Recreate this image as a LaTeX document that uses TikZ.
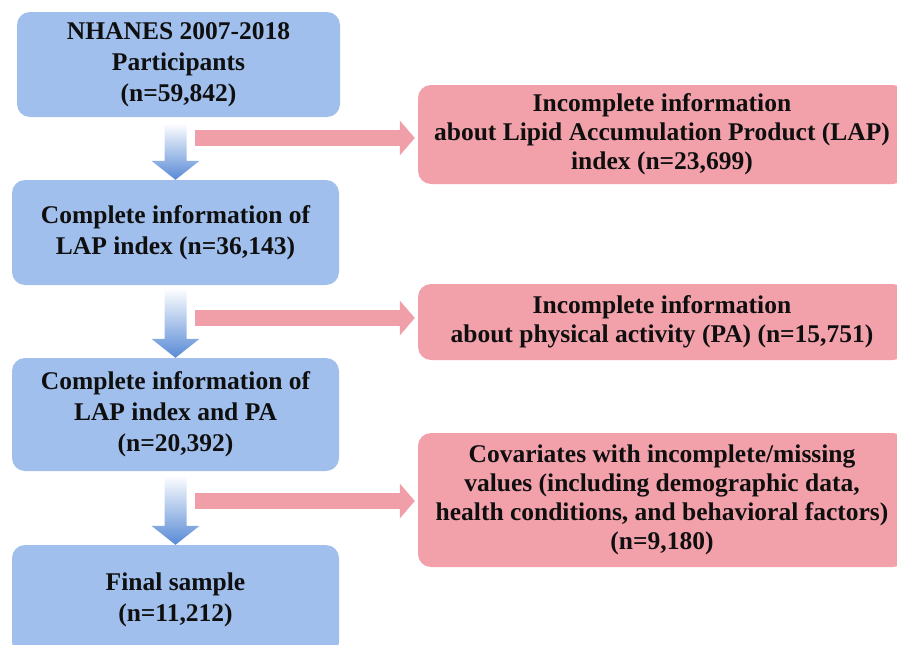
\documentclass[tikz,border=0pt]{standalone}
\usepackage{fontspec}
\setmainfont{Liberation Serif}
\usetikzlibrary{calc,arrows.meta}
\definecolor{boxblue}{RGB}{161,191,236}
\definecolor{boxpink}{RGB}{242,161,171}
\definecolor{arrowpink}{RGB}{240,158,168}
\definecolor{arrowblue}{RGB}{88,138,214}
\definecolor{txt}{RGB}{15,15,15}
\tikzset{
  boxbase/.style={rounded corners=13pt, align=center, text=txt, inner sep=0pt},
  bluebox/.style={boxbase, fill=boxblue, minimum width=327pt,
    font=\fontsize{25.5}{31}\selectfont\bfseries},
  pinkbox/.style={boxbase, fill=boxpink, minimum width=488pt,
    font=\fontsize{25.5}{29}\selectfont\bfseries},
  pinkarr/.style={draw=arrowpink, line width=16pt, -{Triangle[length=15pt,width=34pt]}},
  downshade/.style={top color=white, bottom color=arrowblue}
}
\newcommand{\downarr}[2]{%
  \shade[downshade] let \p1=(#1), \p2=(#2) in
    (\x2-11pt,\y1) -- (\x2+11pt,\y1) -- (\x2+11pt,\y2+19pt) -- (\x2+24pt,\y2+19pt)
    -- (\x2,\y2) -- (\x2-24pt,\y2+19pt) -- (\x2-11pt,\y2+19pt) -- cycle;}
\begin{document}
\begin{tikzpicture}[x=1pt,y=-1pt]
\useasboundingbox (0,0) rectangle (897,645);
\clip (0,0) rectangle (897,645);
\fill[white] (0,0) rectangle (897,645);

\node[bluebox, minimum width=323pt, minimum height=105pt] (b1) at (178.5,64.5)
  {NHANES 2007-2018\\Participants\\(n=59,842)};
\node[bluebox, minimum height=105pt] (b2) at (175.5,232.5)
  {Complete information of\\LAP index (n=36,143)};
\node[bluebox, minimum height=113pt] (b3) at (175.5,414.5)
  {Complete information of\\LAP index and PA\\(n=20,392)};
\node[bluebox, minimum height=110pt] (b4) at (175.5,600)
  {Final sample\\(n=11,212)};

\node[pinkbox, minimum height=99pt] (p1) at (662,134.5)
  {Incomplete information\\about Lipid Accumulation Product (LAP)\\index (n=23,699)};
\node[pinkbox, minimum height=76pt] (p2) at (662,322)
  {Incomplete information\\about physical activity (PA) (n=15,751)};
\node[pinkbox, minimum height=134pt] (p3) at (662,500)
  {Covariates with incomplete/missing\\values (including demographic data,\\health conditions, and behavioral factors)\\(n=9,180)};

\coordinate (t1) at ($(b1.south)+(0,6)$);
\coordinate (t2) at ($(b2.south)+(0,3)$);
\coordinate (t3) at ($(b3.south)+(0,4)$);
\downarr{t1}{b2.north}
\downarr{t2}{b3.north}
\downarr{t3}{b4.north}

\coordinate (c1) at (195,138);
\coordinate (c2) at (195,318);
\coordinate (c3) at (195,501);
\draw[pinkarr] (c1) -- ($(p1.west |- c1)+(-3,0)$);
\draw[pinkarr] (c2) -- ($(p2.west |- c2)+(-3,0)$);
\draw[pinkarr] (c3) -- ($(p3.west |- c3)+(-3,0)$);
\end{tikzpicture}
\end{document}
